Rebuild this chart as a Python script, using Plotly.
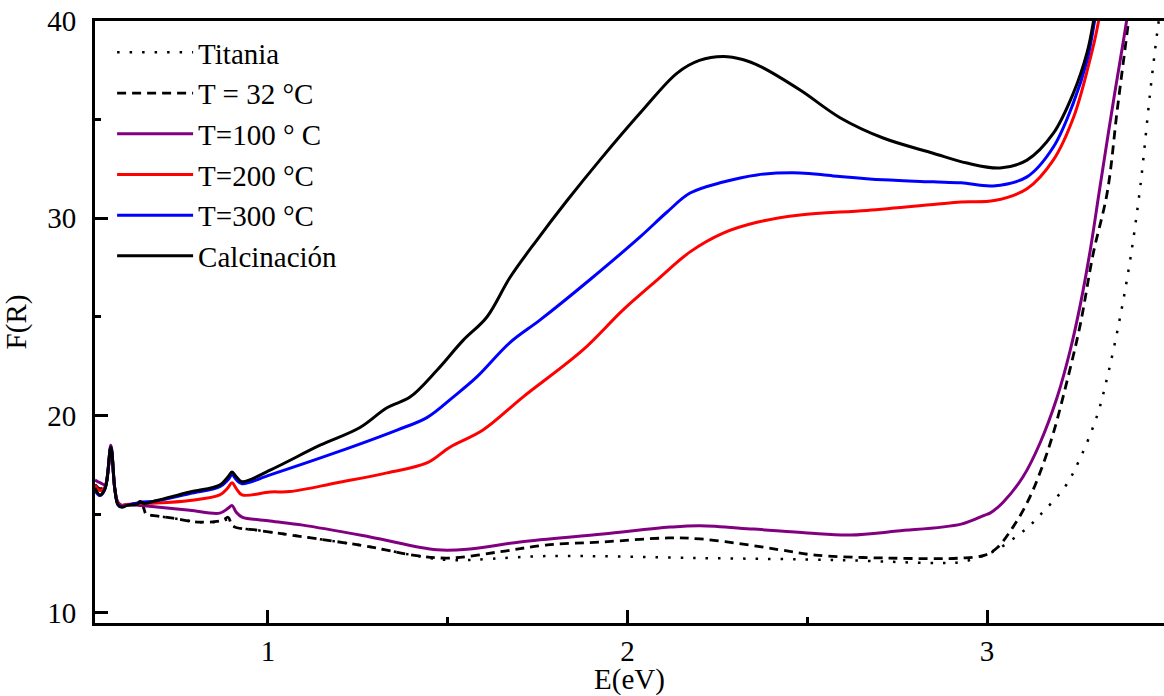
import plotly.graph_objects as go

# ---- data (E in eV, F(R)) ----
titania_x = [0.519, 0.533, 0.547, 0.563, 0.574, 0.583, 0.594, 0.608, 0.636, 0.650, 0.661, 0.672, 0.736, 0.811,
             0.875, 0.889, 0.903, 0.969, 1.006, 1.284, 1.403, 1.503, 1.773, 2.202, 2.588, 2.861, 2.928, 2.994,
             3.031, 3.072, 3.111, 3.147, 3.217, 3.259, 3.306, 3.337, 3.370, 3.398, 3.426, 3.453, 3.473, 3.482]
titania_y = [16.5, 16.3, 16.4, 18.4, 16.3, 15.55, 15.4, 15.45, 15.55, 15.5, 15.0, 14.96, 14.8, 14.6,
             14.65, 14.75, 14.4, 14.2, 14.1, 13.35, 12.93, 12.68, 12.88, 12.78, 12.68, 12.53, 12.58, 12.93,
             13.24, 13.75, 14.3, 14.96, 16.4, 17.85, 20.0, 22.16, 25.0, 27.9, 31.6, 36.3, 39.4, 40.6]

t32_x = [0.519, 0.533, 0.547, 0.563, 0.574, 0.583, 0.594, 0.608, 0.636, 0.650, 0.661, 0.672, 0.736, 0.811,
         0.875, 0.889, 0.903, 0.969, 1.006, 1.284, 1.403, 1.503, 1.645, 1.773, 1.932, 2.113, 2.202, 2.316,
         2.424, 2.522, 2.725, 2.928, 2.994, 3.028, 3.072, 3.111, 3.147, 3.184, 3.223, 3.259, 3.295, 3.334,
         3.362, 3.392, 3.397]
t32_y = [16.5, 16.3, 16.4, 18.4, 16.3, 15.55, 15.4, 15.45, 15.55, 15.5, 15.0, 14.96, 14.8, 14.6,
         14.7, 14.85, 14.4, 14.2, 14.1, 13.35, 12.93, 12.78, 13.1, 13.44, 13.6, 13.8, 13.75, 13.5,
         13.2, 12.93, 12.78, 12.78, 12.93, 13.3, 14.35, 15.57, 17.1, 19.1, 21.8, 24.6, 28.2, 31.3,
         35.5, 39.8, 40.6]

t100_x = [0.519, 0.533, 0.547, 0.563, 0.574, 0.583, 0.594, 0.608, 0.644, 0.691, 0.783, 0.866, 0.889, 0.900,
          0.912, 0.928, 1.006, 1.097, 1.284, 1.470, 1.562, 1.701, 1.932, 2.118, 2.202, 2.350, 2.500, 2.620,
          2.750, 2.928, 2.994, 3.008, 3.044, 3.100, 3.147, 3.195, 3.231, 3.259, 3.287, 3.314, 3.351, 3.387,
          3.392]
t100_y = [16.74, 16.6, 16.5, 18.5, 16.3, 15.6, 15.45, 15.5, 15.45, 15.37, 15.2, 15.06, 15.3, 15.45,
          15.1, 14.86, 14.66, 14.45, 13.85, 13.2, 13.24, 13.6, 14.0, 14.35, 14.42, 14.25, 14.05, 13.95,
          14.15, 14.5, 14.96, 15.06, 15.6, 16.9, 18.6, 20.94, 23.3, 25.6, 28.4, 31.6, 35.9, 39.9,
          40.6]

t200_x = [0.519, 0.533, 0.547, 0.563, 0.574, 0.583, 0.594, 0.608, 0.644, 0.691, 0.783, 0.866, 0.889, 0.900,
          0.912, 0.928, 1.006, 1.061, 1.192, 1.331, 1.442, 1.506, 1.598, 1.709, 1.876, 1.987, 2.082, 2.174,
          2.266, 2.360, 2.480, 2.666, 2.850, 2.928, 3.020, 3.111, 3.184, 3.240, 3.281, 3.309, 3.314]
t200_y = [16.48, 16.2, 16.4, 18.4, 16.3, 15.55, 15.45, 15.5, 15.55, 15.57, 15.7, 15.98, 16.35, 16.6,
          16.3, 15.98, 16.13, 16.15, 16.6, 17.1, 17.6, 18.4, 19.27, 20.94, 23.33, 25.35, 26.87, 28.3,
          29.25, 29.8, 30.17, 30.4, 30.7, 30.83, 30.9, 31.5, 32.95, 35.1, 37.67, 39.9, 40.6]

t300_x = [0.519, 0.533, 0.547, 0.563, 0.574, 0.583, 0.594, 0.608, 0.644, 0.691, 0.783, 0.866, 0.889, 0.900,
          0.912, 0.928, 1.006, 1.192, 1.359, 1.442, 1.515, 1.581, 1.673, 1.757, 1.896, 2.035, 2.110, 2.174,
          2.266, 2.360, 2.480, 2.572, 2.711, 2.850, 2.928, 3.017, 3.111, 3.184, 3.240, 3.278, 3.298, 3.304]
t300_y = [16.2, 15.95, 16.3, 18.4, 16.3, 15.5, 15.4, 15.45, 15.6, 15.68, 16.05, 16.4, 16.75, 17.0,
          16.75, 16.55, 17.0, 18.15, 19.27, 19.9, 20.94, 21.96, 23.7, 24.85, 26.9, 29.06, 30.32, 31.28,
          31.84, 32.2, 32.3, 32.15, 31.95, 31.85, 31.8, 31.64, 32.1, 33.6, 35.85, 38.0, 39.9, 40.6]

calc_x = [0.519, 0.533, 0.547, 0.563, 0.574, 0.583, 0.594, 0.608, 0.636, 0.644, 0.655, 0.691, 0.783, 0.866,
          0.889, 0.900, 0.912, 0.928, 1.006, 1.145, 1.256, 1.331, 1.395, 1.470, 1.542, 1.609, 1.673, 1.748,
          1.832, 1.923, 2.043, 2.138, 2.200, 2.266, 2.320, 2.369, 2.480, 2.591, 2.711, 2.850, 2.944, 3.036,
          3.111, 3.184, 3.240, 3.278, 3.295, 3.300]
calc_y = [16.33, 15.98, 16.3, 18.4, 16.3, 15.47, 15.35, 15.45, 15.5, 15.65, 15.55, 15.7, 16.13, 16.48,
          16.9, 17.14, 16.9, 16.65, 17.24, 18.5, 19.4, 20.4, 20.94, 22.3, 23.8, 25.0, 27.0, 28.9,
          30.9, 32.95, 35.5, 37.36, 38.0, 38.2, 38.05, 37.7, 36.5, 35.1, 34.07, 33.3, 32.8, 32.55,
          32.95, 34.3, 36.35, 38.4, 39.9, 40.6]

series = [
    ("Titania", titania_x, titania_y, "black", "2.5px,10px", 2.5),
    ("T = 32 °C", t32_x, t32_y, "black", "9px,6px", 2.8),
    ("T=100 ° C", t100_x, t100_y, "#800080", "solid", 3),
    ("T=200 °C", t200_x, t200_y, "#ff0000", "solid", 3),
    ("T=300 °C", t300_x, t300_y, "#0000ff", "solid", 3),
    ("Calcinación", calc_x, calc_y, "black", "solid", 3),
]

FONT = "Liberation Serif, Times New Roman, serif"
FS = 29

fig = go.Figure()
for i, (name, xs, ys, col, dash, w) in enumerate(series):
    fig.add_trace(go.Scatter(
        x=xs, y=ys, name=name, mode="lines",
        line=dict(color=col, dash=dash, width=w, shape="spline", smoothing=1.0),
    ))

fig.update_layout(
    width=1164, height=696,
    margin=dict(l=95, r=0, t=21, b=73),
    paper_bgcolor="white", plot_bgcolor="white",
    font=dict(family=FONT, size=FS, color="black"),
    showlegend=True,
    legend=dict(
        x=0.016, y=0.99, xanchor="left", yanchor="top",
        font=dict(family=FONT, size=FS, color="black"),
        bgcolor="rgba(0,0,0,0)",
        itemwidth=76,
    ),
    xaxis=dict(
        range=[0.519, 3.492], showgrid=False, zeroline=False, automargin=False,
        showline=True, linecolor="black", linewidth=3, mirror=True,
        ticks="inside", ticklen=13, tickwidth=3, tickcolor="black",
        tickvals=[1, 2, 3], ticktext=["1", "2", "3"],
        minor=dict(tickvals=[1.5, 2.5], ticks="inside", ticklen=6, tickwidth=3, tickcolor="black"),
        tickfont=dict(family=FONT, size=FS), ticklabelstandoff=0, ticklabeloverflow="allow",
        title=dict(text="E(eV)", font=dict(family=FONT, size=FS), standoff=2),
    ),
    yaxis=dict(
        range=[9.49, 40], showgrid=False, zeroline=False, automargin=False,
        showline=True, linecolor="black", linewidth=3,
        ticks="inside", ticklen=13, tickwidth=3, tickcolor="black",
        tickvals=[10, 20, 30, 40], ticktext=["10", "20", "30", "40"],
        minor=dict(tickvals=[15, 25, 35], ticks="inside", ticklen=6, tickwidth=3, tickcolor="black"),
        tickfont=dict(family=FONT, size=FS), ticklabelstandoff=10, ticklabeloverflow="allow",
        title=dict(text="F(R)", font=dict(family=FONT, size=FS), standoff=14),
    ),
)

# remove the browser's default 8px page margin so the figure fills the window exactly
fig.write_html(
    "out.html",
    config={"displayModeBar": False},
    post_script="document.body.style.margin='0';document.body.style.overflow='hidden';",
)
